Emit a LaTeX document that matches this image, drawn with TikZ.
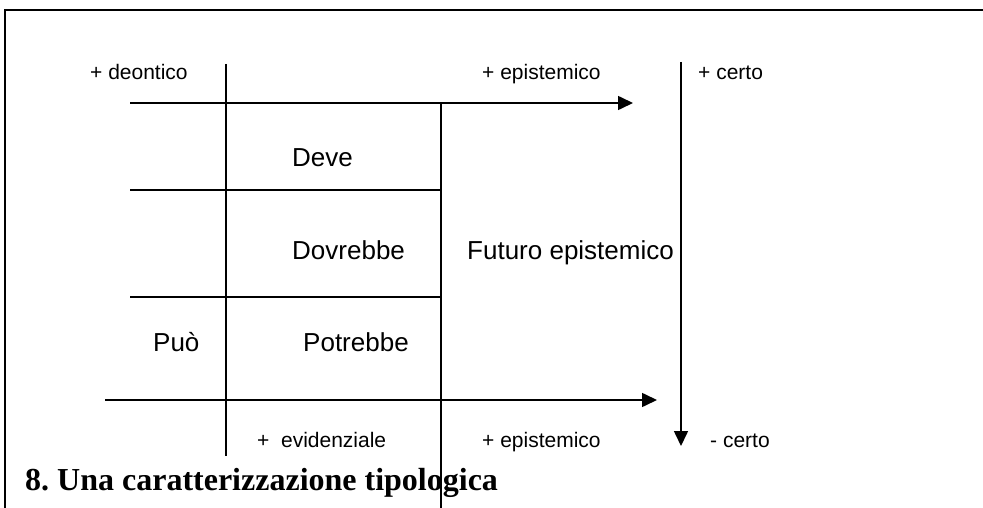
\documentclass[tikz,border=0pt]{standalone}
\usepackage{fontspec}
\setmainfont{Liberation Serif}
\newfontfamily\arialf{Liberation Sans}
\usetikzlibrary{arrows.meta}
\tikzset{
  ax/.style={line width=1.6pt},
  axarrow/.style={line width=1.6pt,-{Triangle[length=15pt,width=14pt]}},
  small/.style={inner sep=0pt,anchor=base west,font=\arialf\fontsize{21}{25}\selectfont},
  big/.style={inner sep=0pt,anchor=base west,font=\arialf\fontsize{26}{31}\selectfont},
  ttl/.style={inner sep=0pt,anchor=base west,font=\bfseries\fontsize{32}{38}\selectfont},
}
\begin{document}
\frenchspacing
\begin{tikzpicture}[x=1pt,y=-1pt]
\useasboundingbox (0,0) rectangle (983,508);
% frame
\coordinate (fl) at (5,508);
\coordinate (fc) at (5,10);
\coordinate (fr) at (983,10);
\draw[line width=2.2pt] (fl) -- (fc) -- (fr);
% coordinates
\coordinate (ta0) at (130,103); \coordinate (ta1) at (633,103);
\coordinate (ba0) at (105,400); \coordinate (ba1) at (657,400);
\coordinate (v1a) at (226,64);  \coordinate (v1b) at (226,456);
\coordinate (v2a) at (441,103); \coordinate (v2b) at (441,508);
\coordinate (h1a) at (130,190); \coordinate (h1b) at (441,190);
\coordinate (h2a) at (130,297); \coordinate (h2b) at (441,297);
\coordinate (ca) at (681,62);   \coordinate (cb) at (681,446);
\coordinate (ga) at (130,400);  \coordinate (gb) at (178,400);
% lines
\draw[axarrow] (ta0) -- (ta1);
\draw[axarrow] (ba0) -- (ba1);
\draw[line width=2.4pt] (ga) -- (gb);
\draw[ax] (v1a) -- (v1b);
\draw[ax] (v2a) -- (v2b);
\draw[ax] (h1a) -- (h1b);
\draw[ax] (h2a) -- (h2b);
\draw[axarrow] (ca) -- (cb);
% labels
\node[small] (deon) at (90,80) {+ deontico};
\node[small] (epi1) at (482,80) {+ epistemico};
\node[small] (cer1) at (698,80) {+ certo};
\node[big] (deve) at (292,167) {Deve};
\node[big] (dovr) at (292,259) {Dovrebbe};
\node[big] (futu) at (467,259) {Futuro epistemico};
\node[big] (puo) at (153,351) {Può};
\node[big] (potr) at (303,351) {Potrebbe};
\node[small] (evid) at (257,447) {+\ \ evidenziale};
\node[small] (epi2) at (482,447) {+ epistemico};
\node[small] (cer2) at (710,447) {- certo};
\node[ttl] (title) at (25,490) {8. Una caratterizzazione tipologica};
\end{tikzpicture}
\end{document}
